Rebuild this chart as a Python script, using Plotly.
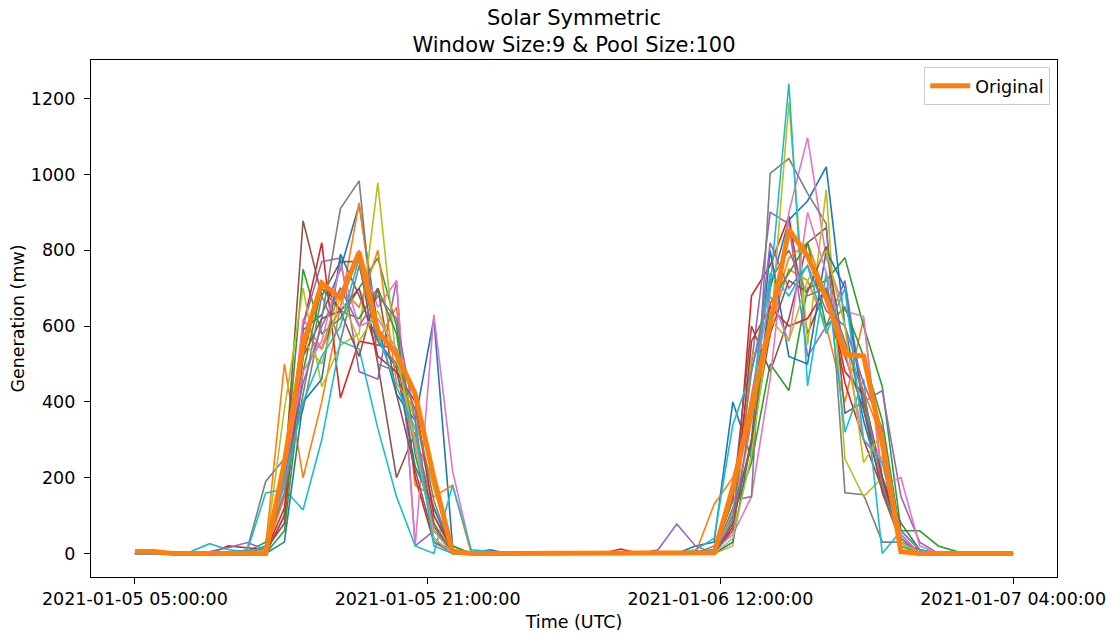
import pandas as pd
import plotly.graph_objects as go

# ---- data -----------------------------------------------------------------
times = [t.strftime("%Y-%m-%d %H:%M:%S")
         for t in pd.date_range("2021-01-05 05:00:00", periods=48, freq="h")]

tick_labels = ["2021-01-05 05:00:00", "2021-01-05 21:00:00",
               "2021-01-06 12:00:00", "2021-01-07 04:00:00"]
tick_index = [0, 47 / 3, 94 / 3, 47]

original = [5,5,0,0,0,0, 0,0,240,550,713,674,795,587,526,421,200,5,0, 0,0,0,0,0,0,0,0,0,0,0, 0,2,174,385,605,855,785,674,526,521,290,5,0,0,0, 0,0,0]

s0 = [0,0,0,0,0,0, 0,0,100,590,630,750,920,600,420,350,620,20,0, 10,0,0,0,0,0,0,0,0,0,0, 20,30,400,250,700,880,930,1020,600,350,180,60,10,0,0, 0,0,0]
s1 = [0,0,0,0,0,0, 0,20,500,200,400,650,925,560,650,180,150,180,0, 0,0,0,0,0,0,0,0,0,0,0, 0,130,200,380,600,750,720,600,400,620,200,30,0,0,0, 0,0,0]
s2 = [0,0,0,0,0,0, 5,30,200,750,580,620,700,780,600,290,200,20,0, 0,0,0,0,0,0,0,0,0,0,0, 0,10,100,240,500,430,700,720,780,600,440,60,60,20,5, 0,0,0]
s3 = [0,0,0,0,0,20, 15,10,80,600,820,410,560,550,540,200,30,10,0, 0,0,0,0,0,0,0,12,0,0,0, 5,10,60,680,760,890,580,700,450,300,170,30,10,0,0, 0,0,0]
s4 = [0,0,0,0,5,15, 29,10,150,600,770,780,480,460,720,20,60,10,0, 0,0,0,0,0,0,0,0,0,10,78, 20,0,150,500,900,870,520,600,720,400,430,150,30,0,0, 0,0,0]
s5 = [0,0,0,0,0,0, 0,20,200,878,680,770,770,500,200,320,80,0,0, 0,0,0,0,0,0,0,0,0,0,0, 0,5,140,600,480,620,820,860,370,400,200,80,10,0,0, 0,0,0]
s6 = [0,0,0,0,0,0, 0,10,180,620,540,650,800,650,720,20,630,218,5, 0,0,0,0,0,0,0,0,0,0,0, 0,10,50,150,460,900,1097,780,640,625,180,200,20,0,0, 0,0,0]
s7 = [0,0,0,0,0,0, 10,190,250,380,620,910,983,500,480,300,120,10,0, 0,0,0,0,0,0,0,0,0,0,0, 0,20,140,150,1003,1042,950,870,160,155,30,30,0,0,0, 0,0,0]
s8 = [0,0,0,0,0,0, 0,10,380,700,440,550,580,978,500,350,170,10,0, 0,0,0,0,0,0,0,0,0,0,0, 0,0,20,520,570,1190,550,960,250,150,200,20,0,0,0, 0,0,0]
s9 = [0,0,0,5,26,10, 5,160,170,115,300,560,540,330,150,20,0,180,10, 5,0,0,0,0,0,0,0,0,0,0, 10,40,340,480,700,1240,442,740,320,460,0,60,10,0,0, 0,0,0]
s10 = [0,0,0,0,0,0, 0,0,30,400,460,790,680,560,490,230,120,5,0, 0,0,0,0,0,0,0,0,0,0,0, 0,0,30,300,800,520,500,800,700,380,200,20,0,0,0, 0,0,0]
s11 = [0,0,0,0,0,0, 0,5,150,580,540,700,650,800,450,380,100,0,0, 0,0,0,0,0,0,0,0,0,0,0, 0,5,80,350,620,780,820,680,550,430,300,10,0,0,0, 0,0,0]
s12 = [0,0,0,0,0,0, 0,0,60,480,700,640,620,700,580,260,70,5,0, 0,0,0,0,0,0,0,0,0,0,0, 0,0,120,280,660,740,820,600,650,520,350,40,0,0,0, 0,0,0]
s13 = [0,0,0,0,0,0, 0,5,120,520,720,640,700,520,480,400,100,10,0, 0,0,0,0,0,0,0,0,0,0,0, 0,0,70,560,650,600,620,700,480,420,200,50,0,0,0, 0,0,0]
s14 = [0,0,0,0,0,0, 0,10,200,450,600,700,600,680,620,350,30,0,0, 0,0,0,0,0,0,0,0,0,0,0, 0,0,60,380,820,700,760,640,600,450,330,40,0,0,0, 0,0,0]
s15 = [0,0,0,0,0,0, 0,0,100,520,620,640,520,700,420,220,40,0,0, 0,0,0,0,0,0,0,0,0,0,0, 0,0,80,300,580,720,690,810,520,380,160,30,0,0,0, 0,0,0]
s16 = [0,0,0,0,0,0, 0,10,220,480,560,760,600,620,540,280,60,0,0, 0,0,0,0,0,0,0,0,0,0,0, 0,0,110,420,680,560,900,740,540,300,250,50,0,0,0, 0,0,0]
s17 = [0,0,0,0,0,0, 0,20,160,420,680,560,760,560,500,380,140,0,0, 0,0,0,0,0,0,0,0,0,0,0, 0,0,90,480,720,800,680,700,560,420,180,20,0,0,0, 0,0,0]
s18 = [0,0,0,0,0,0, 0,10,240,560,500,680,560,640,520,300,40,0,0, 0,0,0,0,0,0,0,0,0,0,0, 0,0,40,260,620,560,720,800,600,240,320,30,0,0,0, 0,0,0]
s19 = [0,0,0,0,0,0, 0,20,190,400,520,600,780,580,440,330,20,0,0, 0,0,0,0,0,0,0,0,0,0,0, 0,10,180,400,740,680,760,580,700,300,240,20,0,0,0, 0,0,0]

samples = [s0, s1, s2, s3, s4, s5, s6, s7, s8, s9,
           s10, s11, s12, s13, s14, s15, s16, s17, s18, s19]

# ---- styling ----------------------------------------------------------------
tab10 = ["#1f77b4", "#ff7f0e", "#2ca02c", "#d62728", "#9467bd",
         "#8c564b", "#e377c2", "#7f7f7f", "#bcbd22", "#17becf"]
FONT = "DejaVu Sans, Arial, sans-serif"
FS = 17.5

x_pos = list(range(len(times)))

fig = go.Figure()
for k, s in enumerate(samples):
    fig.add_trace(go.Scatter(
        x=x_pos, y=s, mode="lines", showlegend=False,
        line=dict(color=tab10[k % 10], width=1.6),
        customdata=times, hovertemplate="%{customdata}<br>%{y}<extra></extra>"))

fig.add_trace(go.Scatter(
    x=x_pos, y=original, mode="lines", name="Original",
    line=dict(color="#ff7f0e", width=5),
    customdata=times, hovertemplate="%{customdata}<br>%{y}<extra></extra>"))

axis_common = dict(showline=True, linecolor="black", linewidth=1.2, mirror=True,
                   ticks="outside", ticklen=6, tickwidth=1.2, tickcolor="black",
                   showgrid=False, zeroline=False, automargin=False,
                   tickfont=dict(family=FONT, size=FS, color="black"))

fig.update_layout(
    width=1112, height=633,
    paper_bgcolor="white", plot_bgcolor="white",
    margin=dict(l=91, r=55, t=60, b=56),
    font=dict(family=FONT, color="black"),
    title=dict(text="Solar Symmetric<br>Window Size:9 & Pool Size:100",
               x=(91 + 1057) / 2 / 1112, xanchor="center",
               yref="container", y=1 - 25 / 633, yanchor="top",
               font=dict(family=FONT, size=21, color="black")),
    xaxis=dict(range=[-2.35, 49.35], tickvals=tick_index, ticktext=tick_labels,
               title=dict(text="Time (UTC)", font=dict(family=FONT, size=FS), standoff=7),
               **axis_common),
    yaxis=dict(range=[-62, 1302], tickvals=[0, 200, 400, 600, 800, 1000, 1200],
               ticklabelstandoff=5,
               title=dict(text="Generation (mw)", font=dict(family=FONT, size=FS), standoff=1),
               **axis_common),
    legend=dict(x=0.993, y=0.9865, xanchor="right", yanchor="top",
                bgcolor="white", bordercolor="#cccccc", borderwidth=1,
                itemwidth=40,
                font=dict(family=FONT, size=FS, color="black")),
    showlegend=True,
)

fig.write_html("out.html", config={"displayModeBar": False},
               post_script="document.body.style.margin='0px';document.body.style.padding='0px';")
